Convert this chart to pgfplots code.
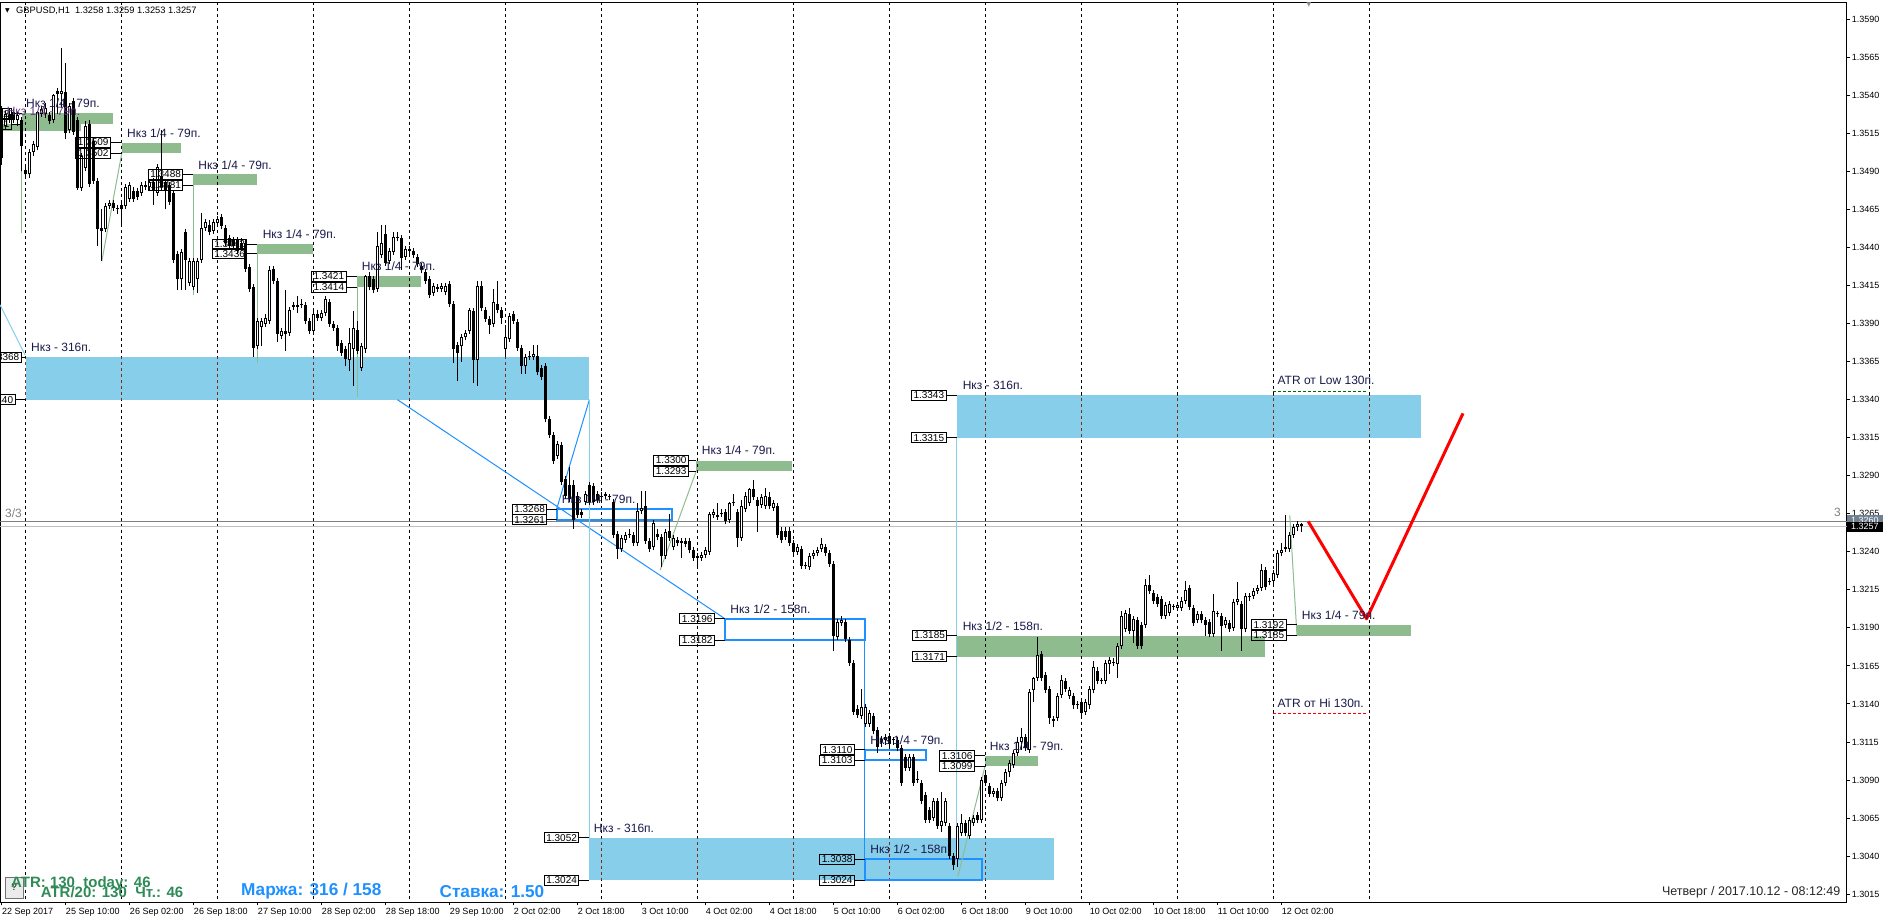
\documentclass[border=0pt]{standalone}
\usepackage{fontspec}
\setmainfont{Liberation Sans}
\newfontfamily\dejavu{DejaVu Sans}
\usepackage{pgfplots}
\usepackage{pgfplotstable}
\pgfplotsset{compat=1.18}
\definecolor{zblue}{RGB}{135,206,235}
\definecolor{zgreen}{RGB}{143,188,143}
\definecolor{rblue}{RGB}{30,144,255}
\definecolor{navy}{RGB}{25,25,75}
\definecolor{atrgreen}{RGB}{46,139,87}
\definecolor{sepbrown}{RGB}{125,45,25}
\definecolor{slate}{RGB}{112,128,144}

\pgfplotstableread{
o h l c
531 533 494 499
520 530 518 528
528 531 522 525
529 531 522 524
524 529 520 527
524 526 490 507
491 493 486 488
488 505 486 503
503 510 500 508
506 530 504 529
528 533 526 531
528 535 525 532
527 529 521 523
524 541 522 540
543 545 528 541
541 571 532 543
542 561 511 515
517 535 515 533
536 538 514 516
524 526 478 479
479 502 477 500
492 523 490 520
521 524 480 482
510 512 482 484
484 486 441 452
453 465 431 451
452 469 450 467
467 471 465 469
469 471 464 466
466 468 462 465
468 471 454 465
467 482 465 480
472 483 470 481
477 480 470 472
477 479 471 473
476 483 474 481
481 484 478 480
480 485 478 483
483 486 468 477
476 495 474 493
487 517 478 480
483 485 465 478
481 483 468 470
476 478 430 432
436 438 412 419
419 439 412 437
450 452 412 432
417 433 415 431
414 433 412 431
419 433 410 431
432 463 430 453
453 459 451 457
455 458 448 450
451 459 449 457
456 461 454 459
460 462 452 454
453 455 441 443
446 448 439 441
445 447 439 441
445 447 436 438
443 446 438 440
443 445 424 426
427 429 411 413
414 416 368 374
375 394 373 392
388 394 375 392
390 396 388 394
392 428 390 425
426 428 416 418
418 420 378 383
382 387 380 385
385 412 372 383
384 401 382 399
401 404 399 402
402 408 397 401
403 406 400 402
402 404 390 392
392 394 383 385
385 398 383 396
396 399 392 394
394 399 392 397
397 408 395 406
404 406 388 390
390 392 385 387
387 389 372 375
377 379 369 371
373 375 362 367
366 387 359 377
373 398 349 387
386 392 370 372
361 377 359 375
373 422 371 421
421 424 412 414
419 421 410 412
413 450 411 441
435 455 433 443
449 455 428 430
431 440 429 438
437 450 435 447
447 450 444 446
446 448 425 433
434 441 432 439
439 441 436 438
438 440 433 435
434 436 427 429
428 430 423 425
424 426 416 418
419 421 407 409
410 417 408 415
414 416 411 413
413 417 411 415
411 417 409 415
416 418 401 403
403 405 364 373
376 378 352 371
375 383 365 381
381 386 379 384
385 400 383 399
398 400 351 366
366 418 349 415
415 418 398 400
399 401 391 393
393 395 383 389
390 413 388 404
403 418 397 399
399 401 390 394
373 389 369 381
380 397 378 395
396 398 390 392
391 393 372 374
374 376 357 362
362 370 357 368
369 372 366 368
368 376 366 370
369 376 356 358
361 363 353 355
362 364 325 327
327 329 315 317
317 319 298 300
303 313 301 311
310 312 284 286
288 290 275 277
284 296 273 275
284 287 255 261
277 279 262 264
266 268 262 264
273 280 271 278
284 286 271 273
283 285 271 273
278 280 272 274
277 279 274 276
277 279 275 278
276 278 274 276
273 275 249 251
252 254 235 242
242 251 240 249
248 253 246 251
252 255 249 251
251 253 244 246
246 272 244 267
267 280 265 269
270 280 245 247
247 249 240 242
243 261 241 259
252 255 248 250
250 252 230 237
237 255 235 253
254 265 247 249
243 251 241 249
248 250 244 246
247 249 236 246
247 249 243 245
247 249 239 241
241 243 234 236
237 239 231 236
236 240 234 238
238 243 236 241
240 266 238 265
264 268 262 266
263 272 261 264
265 268 263 265
266 268 258 260
261 273 259 272
272 278 270 272
266 268 243 249
249 274 247 270
268 279 266 277
272 282 270 281
281 287 274 276
274 276 253 270
271 278 269 276
270 282 268 277
276 279 268 270
269 274 267 272
270 272 249 251
254 256 246 248
254 256 248 250
254 256 244 246
246 248 238 240
240 245 238 243
242 244 229 231
231 233 229 231
230 239 228 237
237 241 235 239
239 243 237 241
242 249 240 245
243 245 237 239
239 241 230 232
232 234 175 185
184 196 182 194
193 198 191 195
194 196 181 183
182 184 165 167
167 169 133 135
137 139 131 133
132 150 130 138
127 140 125 138
127 136 125 134
132 134 120 122
123 125 108 112
117 119 112 115
116 120 113 118
119 121 112 114
116 118 113 116
116 118 109 111
111 113 86 88
105 107 96 98
98 107 96 105
105 107 86 88
90 96 88 90
88 90 74 76
80 82 62 64
70 72 62 64
65 78 63 76
76 78 58 60
60 82 56 63
62 78 60 76
60 62 38 40
40 42 31 34
38 62 33 60
55 68 53 62
62 64 53 55
53 66 51 64
62 67 60 65
67 69 62 64
64 92 62 90
93 95 86 88
86 88 79 81
81 85 79 83
83 85 76 78
78 90 76 88
88 97 86 95
95 103 92 101
100 110 98 108
108 118 106 115
115 124 110 118
118 120 109 111
110 150 108 148
149 158 141 157
157 184 155 172
173 175 155 157
159 161 147 149
150 152 127 131
130 132 125 129
131 147 129 145
146 159 144 156
155 157 148 150
145 151 143 149
145 147 137 139
140 142 137 139
141 143 132 134
135 143 133 141
139 152 137 150
149 168 147 164
162 164 153 155
155 157 153 155
155 169 153 167
166 171 160 169
167 170 165 167
166 180 157 178
178 201 176 198
189 202 187 200
199 203 186 188
188 198 180 196
195 197 176 178
192 194 176 178
192 222 190 218
218 225 212 214
213 215 206 208
210 212 204 206
209 211 196 198
198 207 196 205
200 208 198 206
204 206 202 204
203 207 201 205
203 210 201 208
208 221 206 215
216 218 202 204
203 205 191 193
195 201 193 199
199 201 193 195
195 197 185 192
194 196 184 186
186 212 184 201
199 201 197 199
198 200 175 191
192 197 190 195
193 195 187 189
190 209 188 207
207 220 205 209
206 208 175 189
189 213 187 211
210 213 208 211
211 216 209 214
214 218 212 216
216 232 214 228
228 230 215 217
221 223 218 220
221 228 219 226
225 241 223 239
239 246 237 241
242 264 240 243
242 253 240 251
251 258 249 256
256 260 254 258
258 259 253 257
}\candles

\newcommand{\zone}[5]{\addplot[fill=#5, draw=none, forget plot] coordinates {(#1,#3) (#2,#3) (#2,#4) (#1,#4)} -- cycle;}
\newcommand{\rect}[4]{\addplot[draw=rblue, line width=2pt, fill=none, forget plot] coordinates {(#1,#3) (#2,#3) (#2,#4) (#1,#4)} -- cycle;}
\newcommand{\lin}[2]{\addplot[#1, forget plot] coordinates {#2};}
\newcommand{\pb}[4]{\addplot[black, line width=1pt, forget plot] coordinates {(#1,#3) (#2,#3)};
  \node[pbox] at (axis cs:#1,#3) {#4};}
\newcommand{\lab}[3]{\node[lbl] at (axis cs:#1,#2) {#3};}
\newcommand{\yl}[2]{\node[ylab] at (axis cs:461.225,#1) {#2};}
\newcommand{\xl}[2]{\node[xlab] at (axis cs:#1,9.652) {#2};}

\begin{document}
\begin{tikzpicture}[
  pbox/.style={draw=black, line width=1pt, inner xsep=2pt, inner ysep=0pt, minimum height=10pt, anchor=east, font=\fontsize{10}{10}\selectfont},
  lbl/.style={anchor=west, inner sep=0pt, text=navy, font=\fontsize{12}{12}\selectfont},
  ylab/.style={anchor=west, inner sep=0pt, xshift=5pt, font=\fontsize{9}{9}\selectfont},
  xlab/.style={anchor=north west, inner sep=0pt, yshift=-6pt, font=\fontsize{9}{9}\selectfont}]
\path[use as bounding box] (0pt,-19.7pt) rectangle (1888pt,902.3pt);
\begin{axis}[
  at={(0pt,0pt)}, anchor=south west,
  scale only axis, width=1846.7pt, height=900pt,
  xmin=-0.45, xmax=461.225, ymin=9.652, ymax=601.173,
  clip=false,
  axis line style={black, line width=1pt},
  xtick={0,16,...,320}, ytick={15,40,...,590},
  xticklabels={}, yticklabels={},
  ticklabel style={text opacity=0},
  xtick pos=left, ytick pos=right,
  tick align=outside, major tick length=3pt,
  tick style={black, line width=1pt},
]
% zones
\zone{5.98}{146.9}{340}{368}{zblue}
\zone{238.8}{354.8}{315}{343}{zblue}
\zone{146.75}{262.95}{24}{52}{zblue}
\zone{5}{27.8}{521.5}{528.5}{zgreen}
\zone{-0.45}{19.8}{516.6}{521}{zgreen}
\zone{30}{44.8}{502}{509}{zgreen}
\zone{47.7}{63.7}{481}{488}{zgreen}
\zone{63.9}{77.9}{436}{442}{zgreen}
\zone{88.7}{104.7}{414}{421}{zgreen}
\zone{173.6}{197.6}{293}{300}{zgreen}
\zone{238.9}{315.8}{171}{185}{zgreen}
\zone{245.8}{259}{99}{106}{zgreen}
\zone{323.8}{352.3}{185}{192}{zgreen}
% period separators
\pgfplotsinvokeforeach{6,30,54,78,102,126,150,174,198,222,246,270,294,318,342}{
  \addplot[black, line width=1pt, dash pattern=on 3pt off 3pt, forget plot] coordinates {(#1,601.173) (#1,9.652)};}
\pgfplotsinvokeforeach{6,30,54,78,102,126}{
  \addplot[sepbrown, line width=1pt, dash pattern=on 3pt off 3pt, dash phase=0.77pt, forget plot] coordinates {(#1,368) (#1,340)};}
\pgfplotsinvokeforeach{246,270,294,318,342}{
  \addplot[sepbrown, line width=1pt, dash pattern=on 3pt off 3pt, dash phase=2.81pt, forget plot] coordinates {(#1,343) (#1,315)};}
\pgfplotsinvokeforeach{150,174,198,222,246}{
  \addplot[sepbrown, line width=1pt, dash pattern=on 3pt off 3pt, dash phase=1.57pt, forget plot] coordinates {(#1,52) (#1,24)};}
% horizontal price lines
\lin{gray, line width=1pt}{(-0.45,260) (461.225,260)}
\lin{black!25, line width=1pt}{(-0.45,256.8) (461.225,256.8)}
% rectangles
\rect{138.7}{167.5}{261}{268}
\rect{180.8}{215.8}{182}{196}
\rect{215.8}{231}{103}{110}
\rect{215.8}{245}{24}{38}
% thin lines
\lin{zblue, line width=1pt}{(-0.45,402.4) (5.8,369.5)}
\lin{rblue, line width=1pt}{(98.9,340) (180.8,196)}
\lin{rblue, line width=1pt}{(138.7,268) (146.9,340)}
\lin{zblue, line width=1pt}{(146.9,340) (146.9,52)}
\lin{zblue, line width=1pt}{(238.8,315) (238.8,27)}
\lin{rblue, line width=1pt}{(215.8,182) (215.8,24)}
\lin{zgreen, line width=1pt}{(4.9,521.6) (4.9,449.3)}
\lin{zgreen, line width=1pt}{(25,431) (30,502)}
\lin{zgreen, line width=1pt}{(47.9,481) (47.9,408.8)}
\lin{zgreen, line width=1pt}{(63.9,436) (63.9,364)}
\lin{zgreen, line width=1pt}{(88.9,414) (88.9,342)}
\lin{zgreen, line width=1pt}{(164.6,228) (173.6,293)}
\lin{zgreen, line width=1pt}{(239,26.5) (245.8,99)}
\lin{zgreen, line width=1pt}{(322,264) (323.8,185)}
% candles
\addplot[draw=none, mark=none, forget plot, error bars/.cd, y dir=plus, y explicit, error mark=none,
  error bar style={draw=black, line width=1pt, solid}]
  table[x expr=\coordindex, y=l, y error expr=\thisrow{h}-\thisrow{l}] {\candles};
\addplot[draw=none, mark=none, forget plot, error bars/.cd, y dir=plus, y explicit, error mark=none,
  error bar style={draw=black, line width=3pt, solid}]
  table[x expr=\coordindex, y expr={min(\thisrow{o},\thisrow{c})}, y error expr={max(abs(\thisrow{c}-\thisrow{o}),0.66)}] {\candles};
\addplot[draw=none, mark=none, forget plot, error bars/.cd, y dir=plus, y explicit, error mark=none,
  error bar style={draw=white, line width=1pt, solid}]
  table[x expr=\coordindex, y expr={\thisrow{o}+0.66}, y error expr={max(\thisrow{c}-\thisrow{o}-1.32,0)}] {\candles};
% ATR lines
\lin{black!60!green, line width=1pt, dash pattern=on 3pt off 2pt}{(317.9,345.5) (341.5,345.5)}
\lin{red, line width=1pt, dash pattern=on 3pt off 2pt}{(317.9,134) (341.5,134)}
% red forecast
\lin{red, line width=3pt, line join=round}{(326.6,260) (341.2,196) (365.3,331)}
% price boxes
\pb{2.55}{5}{528}{1.3528}
\pb{2.55}{5}{521}{1.3521}
\pb{27.3}{30}{509}{1.3509}
\pb{27.3}{30}{502}{1.3502}
\pb{45.4}{47.7}{488}{1.3488}
\pb{45.4}{47.7}{481}{1.3481}
\pb{61.4}{63.9}{442}{1.3442}
\pb{61.4}{63.9}{436}{1.3436}
\pb{86.2}{88.7}{421}{1.3421}
\pb{86.2}{88.7}{414}{1.3414}
\pb{171.8}{173.6}{300}{1.3300}
\pb{171.8}{173.6}{293}{1.3293}
\pb{136.4}{138.7}{268}{1.3268}
\pb{136.4}{138.7}{261}{1.3261}
\pb{178.3}{180.8}{196}{1.3196}
\pb{178.3}{180.8}{182}{1.3182}
\pb{213.3}{215.8}{110}{1.3110}
\pb{213.3}{215.8}{103}{1.3103}
\pb{213.3}{215.8}{38}{1.3038}
\pb{213.3}{215.8}{24}{1.3024}
\pb{236.4}{238.9}{185}{1.3185}
\pb{236.4}{238.9}{171}{1.3171}
\pb{243.3}{245.8}{106}{1.3106}
\pb{243.3}{245.8}{99}{1.3099}
\pb{236.2}{238.8}{343}{1.3343}
\pb{236.2}{238.8}{315}{1.3315}
\pb{144.4}{146.75}{52}{1.3052}
\pb{144.4}{146.75}{24}{1.3024}
\pb{321.2}{323.8}{192}{1.3192}
\pb{321.2}{323.8}{185}{1.3185}
\pb{5}{5.98}{368}{1.3368}
\pb{3.45}{5.98}{340}{1.3340}
% zone labels
\node[lbl, text={rgb,255:red,100;green,60;blue,130}] at (axis cs:1.2,529.3) {Нкз 1/4 - 79п.};
\lab{6.05}{535}{Нкз 1/4 - 79п.}
\lab{31.3}{515.1}{Нкз 1/4 - 79п.}
\lab{49.1}{494.2}{Нкз 1/4 - 79п.}
\lab{65.2}{448.9}{Нкз 1/4 - 79п.}
\lab{90}{427.4}{Нкз 1/4 - 79п.}
\lab{175}{306.5}{Нкз 1/4 - 79п.}
\lab{240.2}{191.3}{Нкз 1/2 - 158п.}
\lab{247}{112.3}{Нкз 1/4 - 79п.}
\lab{325}{198.3}{Нкз 1/4 - 79п.}
\lab{7.3}{374.3}{Нкз - 316п.}
\lab{240.2}{349.3}{Нкз - 316п.}
\lab{148}{58.3}{Нкз - 316п.}
\lab{140}{274.3}{Нкз 1/4 - 79п.}
\lab{182.1}{202.3}{Нкз 1/2 - 158п.}
\lab{217.1}{116.3}{Нкз 1/4 - 79п.}
\lab{217.1}{44.3}{Нкз 1/2 - 158п.}
\lab{318.9}{352.5}{ATR от Low 130п.}
\lab{318.9}{140.6}{ATR от Hi 130п.}
% header and misc text
\node[anchor=west, inner sep=0pt, font=\dejavu\fontsize{6}{6}\selectfont] at (axis cs:0.8,595.7) {▼};
\node[anchor=west, inner sep=0pt, font=\fontsize{9.3}{9.3}\selectfont] at (axis cs:3.55,595.7) {GBPUSD,H1\hspace{0.55em}1.3258 1.3259 1.3253 1.3257};
\node[anchor=north, inner sep=0pt, text=black!45, font=\dejavu\fontsize{6}{6}\selectfont] at (axis cs:326.8,601.17) {▼};
\node[anchor=west, inner sep=0pt, text=gray, font=\fontsize{12}{12}\selectfont] at (axis cs:0.8,265.5) {3/3};
\node[anchor=east, inner sep=0pt, text=gray, font=\fontsize{12}{12}\selectfont] at (axis cs:459.8,265.7) {3};
\node[draw=black!55, fill=black!8, minimum width=17pt, minimum height=21pt, inner sep=0pt, font=\fontsize{10}{10}\selectfont] at (axis cs:3.1,19.4) {?};
\node[anchor=west, inner sep=0pt, text=atrgreen, font=\bfseries\fontsize{15}{15}\selectfont] at (axis cs:2.3,22.1) {ATR: 130\ \ today: 46};
\node[anchor=west, inner sep=0pt, text=atrgreen, font=\bfseries\fontsize{15}{15}\selectfont] at (axis cs:9.7,16.0) {ATR/20: 130\ \ Чт.: 46};
\node[anchor=west, inner sep=0pt, text=rblue, font=\bfseries\fontsize{17.2}{17.2}\selectfont] at (axis cs:59.8,16.8) {Маржа: 316 / 158};
\node[anchor=west, inner sep=0pt, text=rblue, font=\bfseries\fontsize{17.2}{17.2}\selectfont] at (axis cs:109.4,16.8) {Ставка: 1.50};
\node[anchor=east, inner sep=0pt, text=black!85, font=\fontsize{12.5}{12.5}\selectfont] at (axis cs:459.7,16.0) {Четверг / 2017.10.12 - 08:12:49};
% y tick labels
\yl{15}{1.3015}\yl{40}{1.3040}\yl{65}{1.3065}\yl{90}{1.3090}\yl{115}{1.3115}\yl{140}{1.3140}
\yl{165}{1.3165}\yl{190}{1.3190}\yl{215}{1.3215}\yl{240}{1.3240}\yl{265}{1.3265}\yl{290}{1.3290}
\yl{315}{1.3315}\yl{340}{1.3340}\yl{365}{1.3365}\yl{390}{1.3390}\yl{415}{1.3415}\yl{440}{1.3440}
\yl{465}{1.3465}\yl{490}{1.3490}\yl{515}{1.3515}\yl{540}{1.3540}\yl{565}{1.3565}\yl{590}{1.3590}
% current price boxes
\node[anchor=west, fill=slate, text=white, minimum width=36pt, minimum height=10pt, inner sep=0pt, font=\fontsize{9}{9}\selectfont] at (axis cs:461.225,260.6) {1.3260};
\node[anchor=west, fill=black, text=white, minimum width=36pt, minimum height=10pt, inner sep=0pt, font=\fontsize{9}{9}\selectfont] at (axis cs:461.225,256.6) {1.3257};
% x tick labels
\xl{0}{22 Sep 2017}\xl{16}{25 Sep 10:00}\xl{32}{26 Sep 02:00}\xl{48}{26 Sep 18:00}
\xl{64}{27 Sep 10:00}\xl{80}{28 Sep 02:00}\xl{96}{28 Sep 18:00}\xl{112}{29 Sep 10:00}
\xl{128}{2 Oct 02:00}\xl{144}{2 Oct 18:00}\xl{160}{3 Oct 10:00}\xl{176}{4 Oct 02:00}
\xl{192}{4 Oct 18:00}\xl{208}{5 Oct 10:00}\xl{224}{6 Oct 02:00}\xl{240}{6 Oct 18:00}
\xl{256}{9 Oct 10:00}\xl{272}{10 Oct 02:00}\xl{288}{10 Oct 18:00}\xl{304}{11 Oct 10:00}
\xl{320}{12 Oct 02:00}
\end{axis}
\end{tikzpicture}
\end{document}
